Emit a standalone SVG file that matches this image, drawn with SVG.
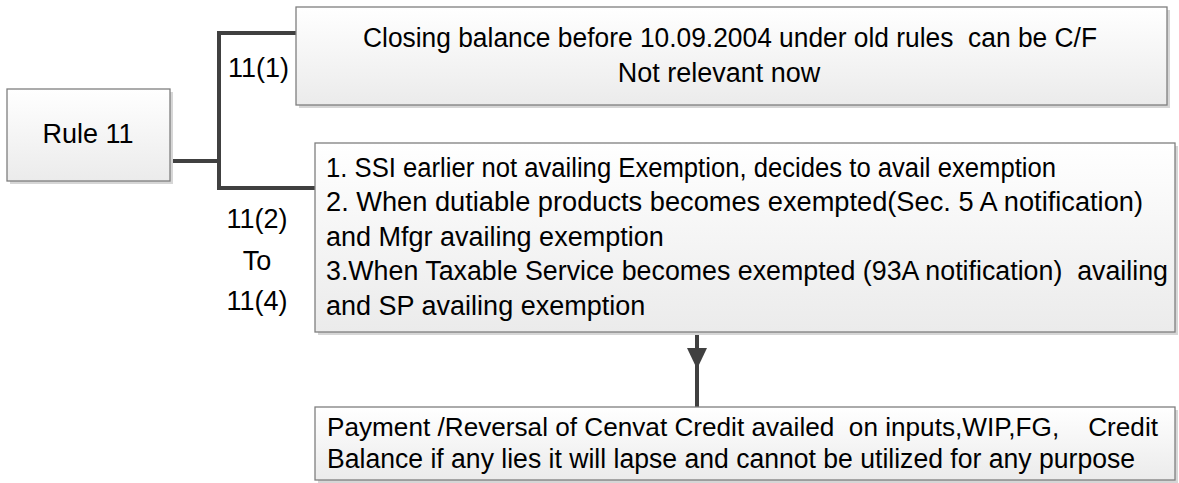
<svg xmlns="http://www.w3.org/2000/svg" width="1179" height="483" viewBox="0 0 1179 483">
<defs>
<linearGradient id="g" x1="0" y1="0" x2="0" y2="1">
<stop offset="0" stop-color="#ffffff"/>
<stop offset="1" stop-color="#ebebeb"/>
</linearGradient>
</defs>
<style>
.box{fill:url(#g);stroke:#7f7f7f;stroke-width:1.3}
.sh{fill:#d6d6d6}
.t{font-family:"Liberation Sans",Arial,sans-serif;font-size:27px;fill:#000;white-space:pre}
.c{fill:none;stroke:#404040;stroke-width:4}
</style>
<g id="connectors">
<polyline class="c" points="172,161 219,161"/>
<polyline class="c" points="296,33 219,33 219,188 315,188"/>
<line class="c" x1="697" y1="332" x2="697" y2="407"/>
<path d="M687,348 L707,348 L697,369 Z" fill="#404040"/>
<text class="t" x="228" y="77">11(1)</text>
<text class="t" x="257" y="228" text-anchor="middle">11(2)</text>
<text class="t" x="257" y="270" text-anchor="middle">To</text>
<text class="t" x="257" y="310" text-anchor="middle">11(4)</text>
</g>
<g id="rule11">
<rect class="sh" x="10" y="92" width="163" height="92"/>
<rect class="box" x="7" y="89" width="163" height="92"/>
<text class="t" x="88" y="143" text-anchor="middle">Rule 11</text>
</g>
<g id="closing">
<rect class="sh" x="299" y="10" width="871" height="98"/>
<rect class="box" x="296" y="7" width="871" height="98"/>
<text class="t" x="363" y="47" textLength="734" lengthAdjust="spacingAndGlyphs" xml:space="preserve">Closing balance before 10.09.2004 under old rules  can be C/F</text>
<text class="t" x="719" y="82" text-anchor="middle">Not relevant now</text>
</g>
<g id="cases">
<rect class="sh" x="318" y="146" width="860" height="189"/>
<rect class="box" x="315" y="143" width="860" height="189"/>
<text class="t" x="326" y="177" textLength="730" lengthAdjust="spacingAndGlyphs">1. SSI earlier not availing Exemption, decides to avail exemption</text>
<text class="t" x="326" y="211" textLength="817" lengthAdjust="spacingAndGlyphs">2. When dutiable products becomes exempted(Sec. 5 A notification)</text>
<text class="t" x="326" y="246">and Mfgr availing exemption</text>
<text class="t" x="326" y="280" textLength="842" lengthAdjust="spacingAndGlyphs" xml:space="preserve">3.When Taxable Service becomes exempted (93A notification)  availing</text>
<text class="t" x="326" y="315">and SP availing exemption</text>
</g>
<g id="payment">
<rect class="sh" x="318" y="410" width="860" height="73"/>
<rect class="box" x="315" y="407" width="860" height="73"/>
<text class="t" x="327" y="436" style="font-size:26px" textLength="831" lengthAdjust="spacingAndGlyphs" xml:space="preserve">Payment /Reversal of Cenvat Credit availed  on inputs,WIP,FG,    Credit</text>
<text class="t" x="327" y="468" textLength="808" lengthAdjust="spacingAndGlyphs">Balance if any lies it will lapse and cannot be utilized for any purpose</text>
</g>
</svg>
